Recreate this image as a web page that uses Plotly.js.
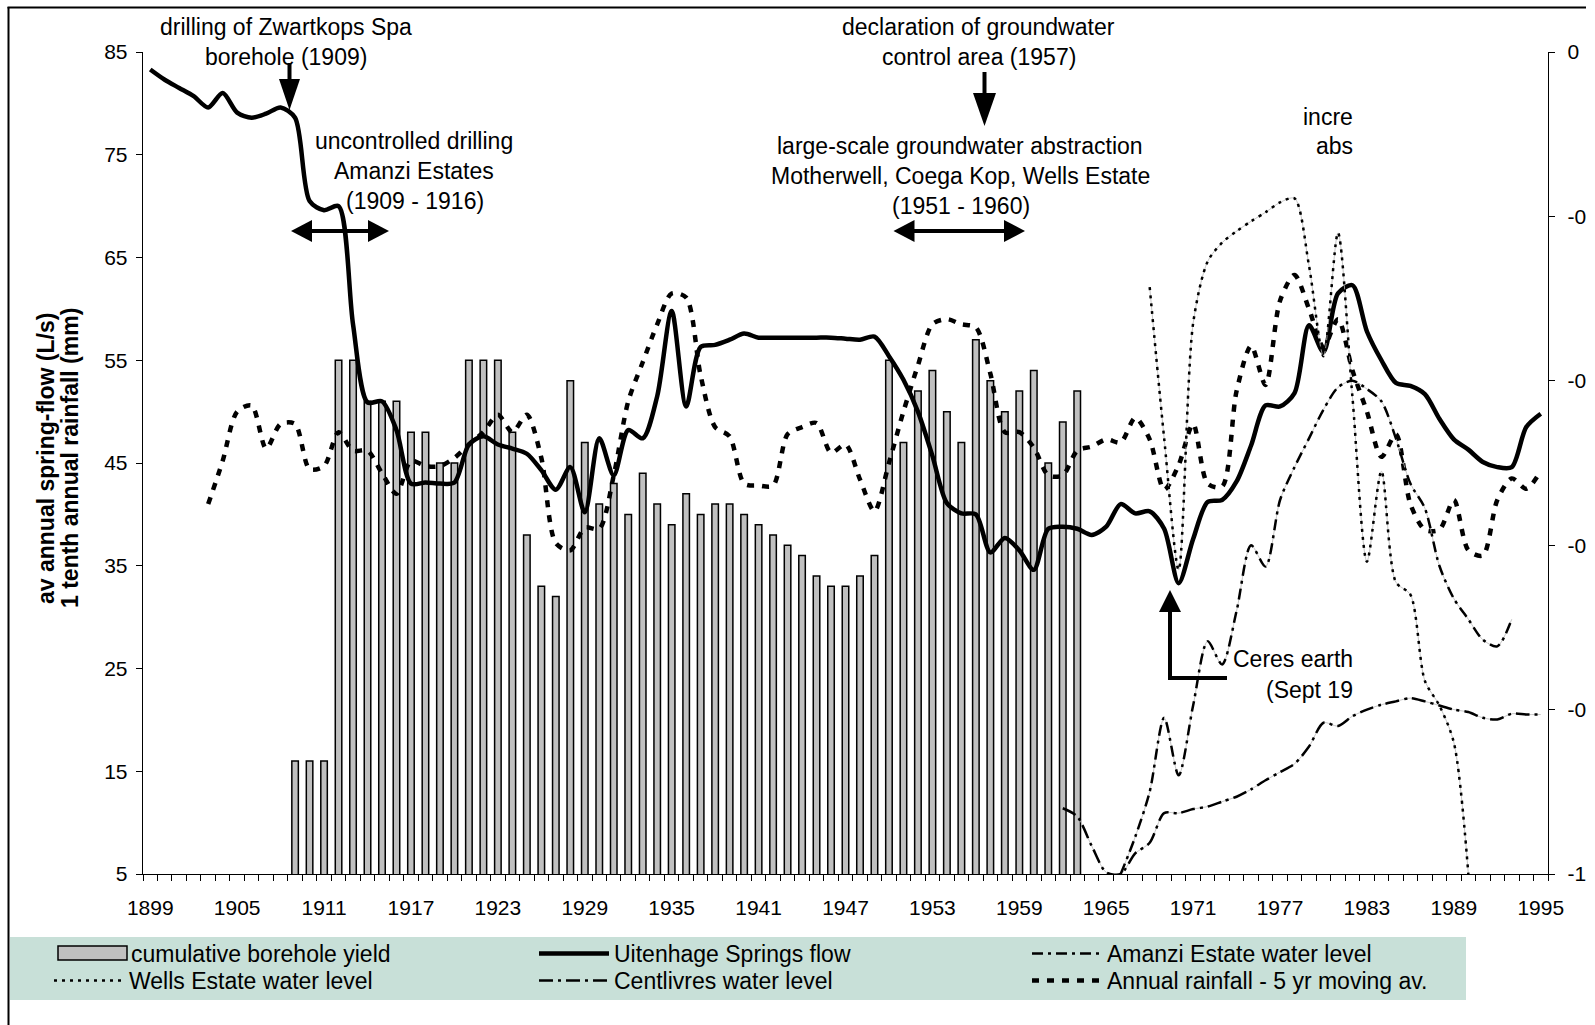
<!DOCTYPE html>
<html>
<head>
<meta charset="utf-8">
<script src="https://cdn.plot.ly/plotly-3.0.1.min.js"></script>
<style>
html,body{margin:0;padding:0;background:#ffffff;}
#chart{width:1595px;height:1025px;}
</style>
</head>
<body>
<div id="chart"></div>
<script>
// ---------------- DATA ----------------
const xTickYears = [1899,1905,1911,1917,1923,1929,1935,1941,1947,1953,1959,1965,1971,1977,1983,1989,1995];
const xTickLabels = ["1899","1905","1911","1917","1923","1929","1935","1941","1947","1953","1959","1965","1971","1977","1983","1989","1995"];
const leftTicks = [5,15,25,35,45,55,65,75,85];
const rightTickVals = [0,-0.2,-0.4,-0.6,-0.8,-1];
const rightTickText = ["0","-0","-0","-0","-0","-1"];

// cumulative borehole yield (bars, left axis)
const boreYears = [1909,1910,1911,1912,1913,1914,1915,1916,1917,1918,1919,1920,1921,1922,1923,1924,1925,1926,1927,1928,1929,1930,1931,1932,1933,1934,1935,1936,1937,1938,1939,1940,1941,1942,1943,1944,1945,1946,1947,1948,1949,1950,1951,1952,1953,1954,1955,1956,1957,1958,1959,1960,1961,1962,1963];
const boreYield = [16,16,16,55,55,51,51,51,48,48,45,45,55,55,55,48,38,33,32,53,47,41,43,40,44,41,39,42,40,41,41,40,39,38,37,36,34,33,33,34,36,55,47,52,54,50,47,57,53,50,52,54,45,49,52];

// Uitenhage Springs flow (left axis)
const flowYears = [1899,1900,1901,1902,1903,1904,1905,1906,1907,1908,1909,1910,1911,1912,1913,1914,1915,1916,1917,1918,1919,1920,1921,1922,1923,1924,1925,1926,1927,1928,1929,1930,1931,1932,1933,1934,1935,1936,1937,1938,1939,1940,1941,1942,1943,1944,1945,1946,1947,1948,1949,1950,1951,1952,1953,1954,1955,1956,1957,1958,1959,1960,1961,1962,1963,1964,1965,1966,1967,1968,1969,1970,1971,1972,1973,1974,1975,1976,1977,1978,1979,1980,1981,1982,1983,1984,1985,1986,1987,1988,1989,1990,1991,1992,1993,1994,1995];
const springFlow = [83.3,82.3,81.5,80.7,79.6,81.0,79.1,78.6,79.0,79.6,78.6,70.5,69.6,70.0,58.5,50.9,51.0,48.2,43.0,43.1,43.0,43.1,46.8,47.6,46.8,46.4,45.9,44.3,42.4,44.6,40.2,47.4,43.8,48.2,47.4,51.5,59.8,50.5,56.3,56.5,57.0,57.6,57.2,57.2,57.2,57.2,57.2,57.2,57.1,57.0,57.3,55.4,53.1,50.0,45.7,41.1,40.1,40.0,36.3,37.7,36.5,34.6,38.6,38.8,38.6,38.0,38.8,41.0,40.1,40.3,38.6,33.3,37.6,41.2,41.4,43.2,46.7,50.6,50.5,51.8,58.4,55.8,61.5,62.3,57.8,55.0,52.8,52.5,51.7,49.3,47.3,46.3,45.1,44.6,44.6,48.5,49.8];

// Annual rainfall - 5 yr moving average, tenth of mm (left axis)
const rainYears = [1903,1904,1905,1906,1907,1908,1909,1910,1911,1912,1913,1914,1915,1916,1917,1918,1919,1920,1921,1922,1923,1924,1925,1926,1927,1928,1929,1930,1931,1932,1933,1934,1935,1936,1937,1938,1939,1940,1941,1942,1943,1944,1945,1946,1947,1948,1949,1950,1951,1952,1953,1954,1955,1956,1957,1958,1959,1960,1961,1962,1963,1964,1965,1966,1967,1968,1969,1970,1971,1972,1973,1974,1975,1976,1977,1978,1979,1980,1981,1982,1983,1984,1985,1986,1987,1988,1989,1990,1991,1992,1993,1994,1995];
const rainfall5yr = [41.0,45.2,50.0,50.6,46.4,48.8,48.8,44.4,44.7,48.0,46.2,46.2,44.0,42.0,45.2,44.7,44.7,45.5,46.8,48.0,49.7,48.0,49.7,45.5,37.2,36.5,38.7,38.6,43.8,51.0,54.8,58.5,61.5,61.1,53.5,48.5,47.6,43.0,42.8,42.8,47.8,48.5,48.9,46.0,46.8,43.4,40.3,45.0,50.0,54.5,58.5,59.0,58.5,58.2,53.7,48.0,48.0,46.5,43.8,43.8,46.2,46.6,47.3,47.0,49.4,47.3,42.4,44.8,48.8,43.0,42.7,52.0,56.4,52.6,60.8,63.3,60.0,56.3,59.0,54.0,50.0,45.6,47.8,41.0,38.5,38.5,41.4,36.5,36.0,41.4,43.5,42.5,44.2];

// Water levels (right axis)
const wellsYears = [1968,1969,1970,1971,1972,1973,1974,1975,1976,1977,1978,1979,1980,1981,1982,1983,1984,1985,1986,1987,1988,1989,1990];
const wellsLevel = [-0.286,-0.47,-0.63,-0.33,-0.255,-0.232,-0.218,-0.206,-0.195,-0.183,-0.178,-0.26,-0.37,-0.22,-0.42,-0.62,-0.51,-0.645,-0.66,-0.765,-0.795,-0.84,-1.0];

const amanziYears = [1966,1967,1968,1969,1970,1971,1972,1973,1974,1975,1976,1977,1978,1979,1980,1981,1982,1983,1984,1985,1986,1987,1988,1989,1990,1991,1992,1993];
const amanziLevel = [-1.0,-0.955,-0.90,-0.81,-0.88,-0.795,-0.717,-0.745,-0.68,-0.60,-0.626,-0.545,-0.505,-0.47,-0.435,-0.408,-0.40,-0.41,-0.425,-0.47,-0.525,-0.555,-0.625,-0.665,-0.69,-0.715,-0.723,-0.69];

const centYears = [1962,1963,1964,1965,1966,1967,1968,1969,1970,1971,1972,1973,1974,1975,1976,1977,1978,1979,1980,1981,1982,1983,1984,1985,1986,1987,1988,1989,1990,1991,1992,1993,1994,1995];
const centLevel = [-0.92,-0.93,-0.966,-0.998,-1.0,-0.975,-0.962,-0.926,-0.926,-0.921,-0.918,-0.912,-0.906,-0.897,-0.886,-0.876,-0.866,-0.845,-0.816,-0.82,-0.808,-0.80,-0.794,-0.79,-0.786,-0.79,-0.795,-0.80,-0.803,-0.81,-0.812,-0.805,-0.806,-0.806];

// ---------------- GEOMETRY HELPERS (decoration only) ----------------
const W = 1595, H = 1025;
const PL = 143, PR = 1548, PT = 52, PB = 874;
const fx = x => (x - PL) / (PR - PL);
const fy = y => (PB - y) / (PB - PT);
const FONT = 'Liberation Sans, Arial, Helvetica, sans-serif';
const TXT = 23;

function lineShape(x0, y0, x1, y1, w) {
  return {type:'line', xref:'paper', yref:'paper', x0:fx(x0), y0:fy(y0), x1:fx(x1), y1:fy(y1),
          line:{color:'#000', width:w}, layer:'above'};
}
function triShape(pts) {
  let d = 'M' + pts.map(p => fx(p[0]).toFixed(5) + ',' + fy(p[1]).toFixed(5)).join(' L') + ' Z';
  return {type:'path', xref:'paper', yref:'paper', path:d, fillcolor:'#000', line:{color:'#000', width:0}, layer:'above'};
}
function downArrow(x, yTop, yTip, hl, hw) {
  return [lineShape(x, yTop, x, yTip - hl + 2, 4),
          triShape([[x - hw/2, yTip - hl], [x + hw/2, yTip - hl], [x, yTip]])];
}
function doubleArrow(xl, xr, y, hl, hw) {
  return [lineShape(xl + hl - 2, y, xr - hl + 2, y, 4),
          triShape([[xl, y], [xl + hl, y - hw/2], [xl + hl, y + hw/2]]),
          triShape([[xr, y], [xr - hl, y - hw/2], [xr - hl, y + hw/2]])];
}
function txt(text, x, y, opts) {
  return Object.assign({text:text, xref:'paper', yref:'paper', x:fx(x), y:fy(y), showarrow:false,
    xanchor:'center', yanchor:'middle', font:{family:FONT, size:TXT, color:'#000'}}, opts || {});
}

// ---------------- TRACES ----------------
const traces = [
  {type:'bar', x:boreYears, y:boreYield, name:'cumulative borehole yield', yaxis:'y', width:0.45,
   marker:{color:'#c0c0c0', line:{color:'#000', width:1.5}}, showlegend:false},
  // faint connectors beneath patterned water-level lines
  {type:'scatter', mode:'lines', x:wellsYears, y:wellsLevel, yaxis:'y2', showlegend:false, hoverinfo:'skip',
   line:{color:'#b8b8b8', width:0.8, shape:'spline', smoothing:0.8}},
  {type:'scatter', mode:'lines', x:amanziYears, y:amanziLevel, yaxis:'y2', showlegend:false, hoverinfo:'skip',
   line:{color:'#b8b8b8', width:0.8, shape:'spline', smoothing:0.8}},
  {type:'scatter', mode:'lines', x:centYears, y:centLevel, yaxis:'y2', showlegend:false, hoverinfo:'skip',
   line:{color:'#b8b8b8', width:0.8, shape:'spline', smoothing:0.8}},
  {type:'scatter', mode:'lines', x:wellsYears, y:wellsLevel, yaxis:'y2', name:'Wells Estate water level',
   line:{color:'#000', width:2.5, dash:'3px,5px', shape:'spline', smoothing:0.8}, legend:'legend4'},
  {type:'scatter', mode:'lines', x:amanziYears, y:amanziLevel, yaxis:'y2', name:'Amanzi Estate water level',
   line:{color:'#000', width:2.5, dash:'11px,5px,3px,5px', shape:'spline', smoothing:0.8}, legend:'legend3'},
  {type:'scatter', mode:'lines', x:centYears, y:centLevel, yaxis:'y2', name:'Centlivres water level',
   line:{color:'#000', width:2.5, dash:'14px,5px,3px,5px', shape:'spline', smoothing:0.8}, legend:'legend5'},
  {type:'scatter', mode:'lines', x:rainYears, y:rainfall5yr, yaxis:'y', name:'Annual rainfall - 5 yr moving av.',
   line:{color:'#000', width:4.5, dash:'7px,8px', shape:'spline', smoothing:0.8}, legend:'legend6'},
  {type:'scatter', mode:'lines', x:flowYears, y:springFlow, yaxis:'y', name:'Uitenhage Springs flow',
   line:{color:'#000', width:4.5, shape:'spline', smoothing:0.8}, legend:'legend2'}
];

// ---------------- DECORATION ----------------
let shapes = [];
// legend background band
shapes.push({type:'rect', xref:'paper', yref:'paper', x0:fx(10), x1:fx(1466), y0:fy(937), y1:fy(1000),
             fillcolor:'#c8e0d8', line:{width:0}, layer:'below'});
// legend key for the bar series
shapes.push({type:'rect', xref:'paper', yref:'paper', x0:fx(58), x1:fx(127), y0:fy(960), y1:fy(946),
             fillcolor:'#c0c0c0', line:{color:'#000', width:1.5}, layer:'above'});
// outer frame (left and top edges)
shapes.push({type:'line', xref:'paper', yref:'paper', x0:fx(8.5), x1:fx(8.5), y0:fy(7), y1:fy(1030), line:{color:'#000', width:2}, layer:'above'});
shapes.push({type:'line', xref:'paper', yref:'paper', x0:fx(7.5), x1:fx(1586), y0:fy(7.5), y1:fy(7.5), line:{color:'#000', width:2}, layer:'above'});
// arrows
shapes = shapes.concat(downArrow(289.5, 63, 110, 31, 21));
shapes = shapes.concat(downArrow(984.5, 72, 126, 33, 23));
shapes = shapes.concat(doubleArrow(291, 389, 231, 21, 22));
shapes = shapes.concat(doubleArrow(893.5, 1025, 231, 21, 22));
// Ceres elbow arrow
shapes.push(lineShape(1168, 678, 1227, 678, 4));
shapes.push(lineShape(1170, 680, 1170, 610, 4));
shapes.push(triShape([[1159, 612], [1181, 612], [1170, 590]]));

const annotations = [
  txt('drilling of Zwartkops Spa', 285.5, 27),
  txt('borehole (1909)', 285.5, 57),
  txt('uncontrolled drilling', 414, 141),
  txt('Amanzi Estates', 414, 171),
  txt('(1909 - 1916)', 415, 201),
  txt('declaration of groundwater', 978.5, 27),
  txt('control area (1957)', 979, 57),
  txt('large-scale groundwater abstraction', 960, 146),
  txt('Motherwell, Coega Kop, Wells Estate', 960, 176),
  txt('(1951 - 1960)', 961, 206),
  txt('incre', 1355, 117, {xanchor:'right'}),
  txt('abs', 1355, 146, {xanchor:'right'}),
  txt('Ceres earth', 1355, 659, {xanchor:'right'}),
  txt('(Sept 19', 1355, 690, {xanchor:'right'}),
  txt('cumulative borehole yield', 129, 954, {xanchor:'left'}),
  txt('<b>av annual spring-flow (L/s)</b>', 46, 458, {textangle:-90, font:{family:FONT, size:23, color:'#000'}}),
  txt('<b>1 tenth annual rainfall (mm)</b>', 70, 458, {textangle:-90, font:{family:FONT, size:23, color:'#000'}})
];

const legendCommon = {orientation:'v', xref:'container', yref:'container', xanchor:'left', yanchor:'top',
  bgcolor:'rgba(0,0,0,0)', borderwidth:0, itemwidth:70, traceorder:'normal',
  font:{family:FONT, size:TXT, color:'#000'}, tracegroupgap:0, itemclick:false, itemdoubleclick:false};
const row1 = 1 - 932/H, row2 = 1 - 959/H;

const layout = {
  width:W, height:H,
  margin:{l:PL, r:W - PR, t:PT, b:H - PB, pad:0, autoexpand:false},
  paper_bgcolor:'#ffffff', plot_bgcolor:'rgba(0,0,0,0)',
  font:{family:FONT, size:21, color:'#000'},
  showlegend:true, barmode:'overlay', hovermode:false,
  xaxis:{range:[1898.5, 1995.5], tickmode:'array', tickvals:xTickYears, ticktext:xTickLabels, automargin:false,
         ticks:'', showline:true, linecolor:'#000', linewidth:1.3, showgrid:false, zeroline:false, tickangle:0,
         tickfont:{family:FONT, size:21, color:'#000'}, ticklabelstandoff:14,
         minor:{tick0:1898.5, dtick:1, ticks:'outside', ticklen:6, tickwidth:1, tickcolor:'#000', showgrid:false}},
  yaxis:{range:[5, 85], tickmode:'array', tickvals:leftTicks, ticks:'outside', ticklen:6, tickwidth:1, tickcolor:'#000',
         showline:true, linecolor:'#000', linewidth:1.3, showgrid:false, zeroline:false, automargin:false,
         tickfont:{family:FONT, size:21, color:'#000'}, ticklabelstandoff:4},
  yaxis2:{range:[-1, 0], overlaying:'y', side:'right', tickmode:'array', tickvals:rightTickVals, ticktext:rightTickText,
          ticks:'outside', ticklen:6, tickwidth:1, tickcolor:'#000', showline:true, linecolor:'#000', linewidth:1.3,
          showgrid:false, zeroline:false, automargin:false, tickfont:{family:FONT, size:21, color:'#000'}, ticklabelstandoff:8},
  legend2:Object.assign({}, legendCommon, {x:534/W, y:row1}),
  legend3:Object.assign({}, legendCommon, {x:1027/W, y:row1}),
  legend4:Object.assign({}, legendCommon, {x:49/W, y:row2}),
  legend5:Object.assign({}, legendCommon, {x:534/W, y:row2}),
  legend6:Object.assign({}, legendCommon, {x:1027/W, y:row2}),
  shapes:shapes,
  annotations:annotations
};

Plotly.newPlot('chart', traces, layout, {displayModeBar:false, staticPlot:true});
</script>
</body>
</html>
